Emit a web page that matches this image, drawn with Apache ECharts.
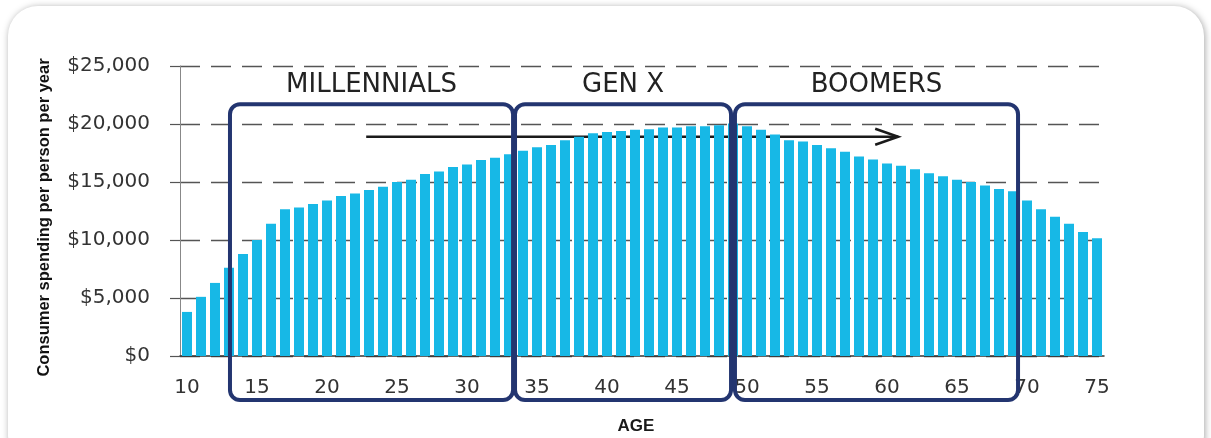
<!DOCTYPE html>
<html>
<head>
<meta charset="utf-8">
<script src="https://cdn.jsdelivr.net/npm/echarts@6/dist/echarts.min.js"></script>
<style>
  html, body { margin: 0; padding: 0; background: #ffffff; width: 1211px; height: 438px; overflow: hidden; }
  #card { position: absolute; left: 8px; top: 6px; width: 1196px; height: 460px; background: #fff;
          border-radius: 30px; box-shadow: 1px 1px 7px rgba(0,0,0,0.35); }
  #chart { position: absolute; left: 0; top: 0; width: 1211px; height: 438px; }
</style>
</head>
<body>
<div id="card"></div>
<div id="chart"></div>
<script>
// ---- data ----
const ages = [];
for (let a = 10; a <= 75; a++) ages.push(String(a));
const spending = [
  3800, 5100, 6300, 7600, 8800, 10000, 11400, 12650, 12800, 13100,
  13400, 13800, 14000, 14300, 14600, 15000, 15200, 15700, 15900, 16300,
  16500, 16900, 17100, 17400, 17700, 18000, 18200, 18600, 18900, 19200,
  19300, 19400, 19500, 19550, 19700, 19700, 19800, 19800, 19900, 20050,
  19800, 19500, 19100, 18600, 18500, 18200, 17900, 17600, 17200, 16950,
  16600, 16400, 16100, 15750, 15500, 15200, 15000, 14700, 14400, 14200,
  13400, 12650, 12000, 11400, 10700, 10150
];
const yTicks = [0, 5000, 10000, 15000, 20000, 25000];
const generations = ['MILLENNIALS', 'GEN X', 'BOOMERS'];
const genStartAge = [13.07, 33.43, 49.14];
const genEndAge = [33.29, 48.86, 69.36];
const boxTopValue = 21700, boxBottomValue = -3800, genLabelValue = 23350;
const arrowFromAge = 22.8, arrowToAge = 60.8, arrowValue = 18900;

const chart = echarts.init(document.getElementById('chart'), null, { renderer: 'canvas' });
const numFont = 'DejaVu Sans';

chart.setOption({
  animation: false,
  backgroundColor: 'transparent',
  grid: { left: 180, right: 107, top: 66, bottom: 82, containLabel: false, outerBoundsMode: 'none' },
  xAxis: {
    type: 'category',
    data: ages,
    boundaryGap: true,
    name: 'AGE',
    nameLocation: 'middle',
    nameGap: 62,
    nameTextStyle: { fontFamily: 'Liberation Sans', fontWeight: 'bold', fontSize: 17, color: '#1a1a1a', padding: [0, 12, 0, 0] },
    axisLine: { lineStyle: { color: '#333', width: 1.5 } },
    axisTick: { show: false },
    axisLabel: { interval: 4, fontFamily: numFont, fontSize: 20, color: '#333', margin: 22 },
    splitLine: { show: false }
  },
  yAxis: {
    type: 'value',
    min: yTicks[0],
    max: yTicks[yTicks.length - 1],
    interval: yTicks[1] - yTicks[0],
    name: 'Consumer spending per person per year',
    nameLocation: 'middle',
    nameRotate: 90,
    nameGap: 127,
    nameTextStyle: { fontFamily: 'Liberation Sans', fontWeight: 'bold', fontSize: 16.5, color: '#111', padding: [0, 13, 0, 0] },
    axisLine: { show: true, lineStyle: { color: '#888', width: 1 } },
    axisTick: { show: true, length: 10, lineStyle: { color: '#555', width: 1.2 } },
    axisLabel: {
      fontFamily: numFont, fontSize: 20, color: '#333', margin: 30,
      formatter: v => '$' + v.toLocaleString('en-US')
    },
    splitLine: { show: true, lineStyle: { color: '#555', width: 1.4, type: [20, 11] } }
  },
  series: [{
    type: 'bar',
    data: spending,
    barWidth: 10,
    itemStyle: { color: '#17b8e6' }
  }]
});

function ageToX(age) {
  const p0 = chart.convertToPixel({ xAxisIndex: 0 }, 0);
  const p1 = chart.convertToPixel({ xAxisIndex: 0 }, 1);
  return p0 + (age - Number(ages[0])) * (p1 - p0);
}
function valToY(v) { return chart.convertToPixel({ yAxisIndex: 0 }, v); }

const graphics = [];
const yTop = valToY(boxTopValue), yBot = valToY(boxBottomValue), yLab = valToY(genLabelValue);
generations.forEach((g, i) => {
  const x1 = ageToX(genStartAge[i]), x2 = ageToX(genEndAge[i]);
  graphics.push({
    type: 'rect', z: 10,
    shape: { x: x1, y: yTop, width: x2 - x1, height: yBot - yTop, r: 10 },
    style: { fill: 'none', stroke: '#233570', lineWidth: 4 }
  });
  graphics.push({
    type: 'text', z: 10,
    style: { text: g, x: (x1 + x2) / 2, y: yLab, align: 'center', verticalAlign: 'middle',
             fontFamily: numFont, fontSize: 26, fill: '#222' }
  });
});
const ax1 = ageToX(arrowFromAge), ax2 = ageToX(arrowToAge), ay = valToY(arrowValue);
graphics.push({
  type: 'polyline', z: 1,
  shape: { points: [[ax1, ay], [ax2, ay]] },
  style: { stroke: '#1a1a1a', lineWidth: 2.5, fill: 'none' }
});
graphics.push({
  type: 'polyline', z: 1,
  shape: { points: [[ax2 - 23, ay - 8], [ax2, ay], [ax2 - 23, ay + 8]] },
  style: { stroke: '#1a1a1a', lineWidth: 2.5, fill: 'none' }
});
chart.setOption({ graphic: graphics });
</script>
</body>
</html>
